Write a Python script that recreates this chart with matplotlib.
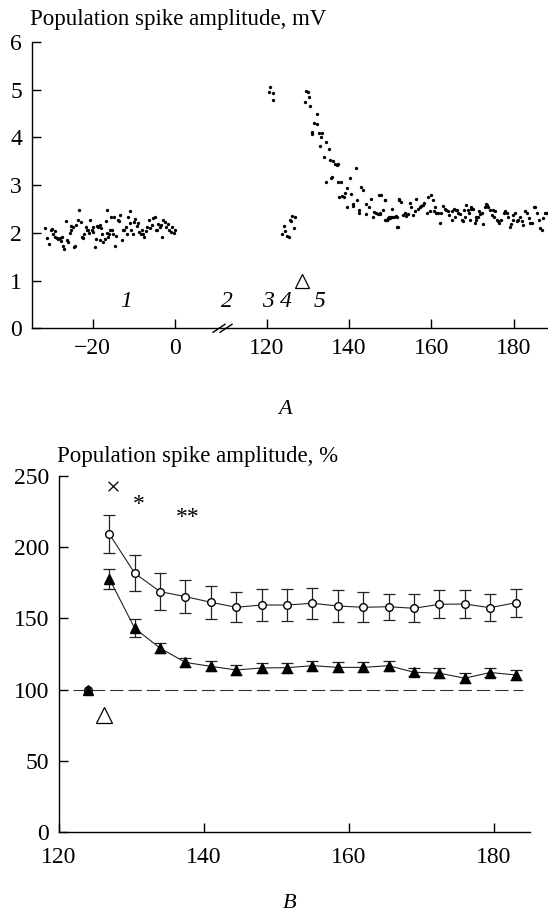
import numpy as np
import matplotlib
matplotlib.use('Agg')
import matplotlib.pyplot as plt
import matplotlib.transforms as mtransforms

plt.rcParams['font.family'] = ['Liberation Serif', 'DejaVu Serif']

# ---------------------------------------------------
# Panel A data - spike amplitude (mV) vs time (min)
# ---------------------------------------------------
# 1 - baseline before stimulation
base_t = [-31.5, -31.1, -30.6, -30.1, -29.8, -29.5, -29.1, -29.1, -28.7, -28.3,
          -27.9, -27.7, -27.5, -27.1, -26.9, -26.4, -26.1, -26.0, -25.6, -25.3,
          -25.2, -24.8, -24.5, -24.2, -24.0, -23.6, -23.2, -22.8, -22.5, -22.3,
          -22.0, -21.6, -21.4, -21.2, -20.8, -20.6, -20.2, -20.0, -19.8, -19.4,
          -19.2, -19.0, -18.7, -18.3, -18.2, -17.9, -17.6, -17.4, -17.1, -16.8,
          -16.6, -16.4, -16.3, -16.0, -15.8, -15.5, -15.2, -15.0, -14.8, -14.6,
          -14.2, -13.9, -13.7, -13.3, -12.9, -12.6, -12.3, -12.0, -11.7, -11.4,
          -11.0, -10.9, -10.6, -10.2, -9.9, -9.6, -9.3, -8.9, -8.7, -8.3,
          -8.0, -7.7, -7.4, -7.1, -6.7, -6.3, -6.0, -5.6, -5.3, -4.9,
          -4.7, -4.4, -4.1, -3.7, -3.4, -3.1, -2.8, -2.5, -2.2, -1.8,
          -1.4, -1.0, -0.6, -0.2, 0.2]
base_v = [2.10, 1.90, 1.77, 2.05, 2.08, 1.98, 2.03, 1.92, 1.90, 1.87,
          1.89, 1.84, 1.92, 1.73, 1.66, 2.24, 1.85, 1.80, 1.99, 2.05,
          2.15, 2.12, 1.70, 1.72, 2.17, 2.27, 2.47, 2.22, 1.91, 1.90,
          1.98, 2.12, 2.05, 2.06, 1.99, 2.27, 2.06, 2.12, 2.01, 1.71,
          1.87, 2.15, 2.12, 2.17, 1.85, 2.10, 1.98, 1.80, 1.87, 2.24,
          1.99, 2.47, 1.91, 1.98, 2.06, 2.33, 2.06, 1.98, 2.33, 1.73,
          1.94, 2.26, 2.24, 2.38, 1.85, 2.06, 2.06, 2.12, 1.98, 2.33,
          2.20, 2.45, 2.06, 1.97, 2.22, 2.29, 2.15, 2.20, 2.01, 1.98,
          2.05, 1.97, 1.92, 2.03, 2.13, 2.27, 2.10, 2.17, 2.31, 2.34,
          2.06, 2.05, 2.19, 2.12, 2.17, 1.92, 2.27, 2.22, 2.12, 2.19,
          2.06, 2.01, 2.12, 1.99, 2.05]

# 3 - first tetanus
tet_t = [120.5, 120.9, 121.4, 121.5]
tet_v = [4.95, 5.05, 4.94, 4.79]

# 4 - depression
dep_t = [123.8, 124.2, 124.4, 125.0, 125.3, 125.6, 125.8, 126.1, 126.6, 126.9]
dep_v = [1.98, 2.15, 2.03, 1.94, 1.91, 2.27, 2.24, 2.35, 2.10, 2.33]

# 5 - potentiation and decay
post_t = [129.3, 129.5, 130.1, 130.3, 130.5, 130.9, 131.1, 131.5, 132.1, 132.3,
          132.6, 132.9, 133.2, 133.5, 134.0, 134.4, 134.5, 135.0, 135.3, 135.6,
          135.8, 136.1, 136.6, 137.0, 137.2, 137.4, 137.6, 138.0, 138.3, 138.8,
          139.1, 139.4, 139.6, 140.2, 140.5, 140.9, 141.0, 141.7, 141.8, 142.5,
          142.5, 142.9, 143.3, 144.0, 144.0, 144.8, 145.2, 145.7, 146.1, 146.6,
          147.0, 147.2, 147.5, 148.3, 148.6, 148.8, 149.2, 149.4, 150.0, 150.5,
          151.3, 151.6, 151.7, 152.1,
          147.4, 147.8, 148.6, 149.0, 149.4, 149.8, 150.2, 151.0, 150.5, 151.8,
          152.2, 152.7, 153.1, 153.5, 153.9, 154.3, 154.7, 155.1, 155.5, 155.9,
          156.3, 156.7, 157.1, 157.5, 157.9, 158.3, 158.8, 159.2, 159.6, 160.0,
          160.4, 160.5, 160.8, 161.2, 161.6, 162.0, 162.4, 162.8, 163.2, 163.6,
          164.0, 164.3, 164.9, 165.1, 165.4, 165.7, 165.9, 166.2, 166.5, 166.9,
          167.3, 167.7, 167.9, 168.1, 168.5, 168.9, 169.2, 169.3, 169.5, 169.7,
          170.1, 170.5, 170.8, 170.9, 171.4, 171.6, 171.8, 172.2, 172.6, 173.0,
          173.2, 173.6, 173.8, 174.2, 174.6, 175.0, 175.2, 175.4, 175.8, 176.2,
          176.5, 177.0, 177.5, 177.9, 178.3, 178.7, 179.1, 179.3, 179.7, 179.9,
          180.3, 180.7, 181.1, 181.5, 181.9, 182.3, 182.7, 183.1, 183.6, 184.0,
          184.4, 184.8, 185.2, 185.6, 186.0, 186.4, 186.8, 187.2, 187.6, 188.0]
post_v = [4.75, 4.98, 4.96, 4.84, 4.66, 4.12, 4.07, 4.31, 4.28, 4.49,
          4.10, 3.83, 4.00, 4.10, 3.58, 3.91, 3.07, 3.75, 3.53, 3.14,
          3.18, 3.51, 3.44, 3.42, 3.44, 3.07, 2.75, 3.06, 2.77, 2.76,
          2.84, 2.55, 2.93, 3.14, 2.82, 2.56, 2.61, 3.35, 2.68, 2.47,
          2.41, 2.97, 2.89, 2.61, 2.40, 2.54, 2.70, 2.34, 2.44, 2.41,
          2.40, 2.79, 2.40, 2.47, 2.68, 2.27, 2.26, 2.29, 2.31, 2.34,
          2.36, 2.34, 2.13, 2.70,
          2.41, 2.79, 2.68, 2.27, 2.31, 2.33, 2.34, 2.33, 2.49, 2.13,
          2.68, 2.65, 2.38, 2.41, 2.35, 2.40, 2.63, 2.54, 2.38, 2.45,
          2.72, 2.51, 2.55, 2.56, 2.58, 2.62, 2.42, 2.76, 2.45, 2.79,
          2.68, 2.45, 2.55, 2.42, 2.42, 2.21, 2.42, 2.56, 2.51, 2.48,
          2.45, 2.38, 2.28, 2.45, 2.51, 2.34, 2.48, 2.48, 2.41, 2.40,
          2.28, 2.24, 2.47, 2.33, 2.58, 2.48, 2.41, 2.28, 2.51, 2.54,
          2.51, 2.20, 2.27, 2.33, 2.34, 2.45, 2.40, 2.41, 2.19, 2.55,
          2.61, 2.58, 2.55, 2.48, 2.38, 2.48, 2.33, 2.45, 2.28, 2.24,
          2.21, 2.28, 2.42, 2.45, 2.41, 2.33, 2.13, 2.19, 2.27, 2.38,
          2.42, 2.24, 2.27, 2.34, 2.24, 2.17, 2.45, 2.42, 2.31, 2.20,
          2.21, 2.55, 2.54, 2.41, 2.27, 2.10, 2.06, 2.31, 2.41, 2.42]

a_xticks = [-20, 0, 120, 140, 160, 180]
a_xlabels = ['\u221220', '0', '120', '140', '160', '180']

# ---------------------------------------------------
# Panel B data - spike amplitude (%) vs time (min)
# ---------------------------------------------------
b_t = [127, 130.5, 134, 137.5, 141, 144.5, 148, 151.5, 155,
       158.5, 162, 165.5, 169, 172.5, 176, 179.5, 183]
b_open = [209.3, 181.7, 168.8, 165.3, 161.3, 157.8, 159.4, 159.4, 160.6,
          158.7, 157.8, 158.2, 157.1, 159.9, 160.1, 157.5, 161.0]
b_open_err = [13.5, 12.5, 13.0, 11.5, 11.5, 10.5, 11.5, 11.0, 10.7,
              11.2, 10.5, 9.0, 9.7, 9.8, 9.5, 9.3, 9.7]
b_filled = [177.9, 143.1, 129.1, 119.1, 116.3, 113.8, 115.2, 115.4, 116.8,
            115.6, 115.6, 116.8, 112.2, 111.5, 108.0, 112.0, 110.3]
b_filled_err = [7.0, 6.3, 3.5, 3.0, 3.5, 3.5, 3.5, 3.5, 3.5,
                3.5, 3.5, 3.5, 3.0, 3.5, 3.5, 3.0, 3.5]
b_base_t = [124]
b_base_v = [99.5]
b_ref = 100
b_ref_t = [122, 184]

# ---------------------------------------------------
# Broken time axis for panel A
# ---------------------------------------------------
GAP = 22.3   # width of the 0..120 gap in axis units


def fwd(t):
    t = np.asarray(t, dtype=float)
    return np.where(t <= 0, t, np.where(t >= 120, t - 120 + GAP, t * GAP / 120))


def inv(d):
    d = np.asarray(d, dtype=float)
    return np.where(d <= 0, d, np.where(d >= GAP, d + 120 - GAP, d * 120 / GAP))


def style_axes(ax, xpad):
    ax.spines['top'].set_visible(False)
    ax.spines['right'].set_visible(False)
    ax.spines['left'].set_linewidth(1.0)
    ax.spines['bottom'].set_linewidth(1.0)
    ax.tick_params(direction='in', length=6.5, width=1.0, labelsize=17)
    ax.tick_params(axis='x', pad=xpad)
    ax.tick_params(axis='y', pad=7)


fig = plt.figure(figsize=(5.48, 9.15), dpi=100)

# ---------------------------------------------------
# Panel A
# ---------------------------------------------------
ax1 = fig.add_axes([0.0578, 0.6412, 0.9422, 0.3129])
ax1.set_xscale('function', functions=(fwd, inv))
ax1.plot(base_t, base_v, 'o', ms=2.4, mew=0, color='black')
ax1.plot(tet_t, tet_v, 'o', ms=2.4, mew=0, color='black')
ax1.plot(dep_t, dep_v, 'o', ms=2.4, mew=0, color='black')
ax1.plot(post_t, post_v, 'o', ms=2.4, mew=0, color='black')
ax1.plot([128.5], [1.0], '^', ms=10, mfc='white', mec='black', mew=0.9)

ax1.set_xlim(-34.8, 188.3)
ax1.set_ylim(0, 6)
ax1.set_xticks(a_xticks)
ax1.set_xticklabels(a_xlabels)
ax1.set_yticks(range(0, 7))
ax1.xaxis.set_minor_locator(plt.NullLocator())
style_axes(ax1, 7)

for lab, tx in [('1', -11.9), ('2', 67.7), ('3', 120.4), ('4', 124.7), ('5', 132.9)]:
    ax1.text(tx, 0.57, lab, fontsize=17, style='italic', ha='center', va='center')

# axis break marks
trans = mtransforms.blended_transform_factory(ax1.transData, ax1.transAxes)
for x0, x1 in [(49.8, 65.4), (58.9, 74.6)]:
    ax1.plot([x0, x1], [-0.014, 0.014], color='black', lw=1.0,
             transform=trans, clip_on=False)

fig.text(0.0547, 0.9727, 'Population spike amplitude, mV', fontsize=16.5,
         va='baseline', ha='left')
fig.text(0.52, 0.553, 'A', fontsize=16, style='italic', ha='center', va='center')

# ---------------------------------------------------
# Panel B
# ---------------------------------------------------
ax2 = fig.add_axes([0.1068, 0.0907, 0.8604, 0.3891])
ax2.plot(b_ref_t, [b_ref, b_ref], color='#333333', lw=0.8,
         linestyle=(0, (12, 4.5)))
ax2.errorbar(b_t, b_open, yerr=b_open_err, fmt='-o', color='#222222',
             mfc='white', mec='black', ms=5.5, lw=0.8, elinewidth=0.9,
             capsize=4, capthick=0.9, zorder=3)
ax2.errorbar(b_t, b_filled, yerr=b_filled_err, fmt='-^', color='#222222',
             mfc='black', mec='black', ms=6.5, lw=0.8, elinewidth=0.9,
             capsize=4, capthick=0.9, zorder=3)
ax2.plot(b_base_t, b_base_v, 'o', ms=5.5, mfc='white', mec='black', zorder=4)
ax2.plot(b_base_t, b_base_v, '^', ms=6.5, color='black', zorder=5)
ax2.plot([126.2], [82], '^', ms=11, mfc='white', mec='black', mew=0.9)

ax2.text(127.5, 240.7, '\u00d7', fontsize=19, ha='center', va='center')
ax2.text(131.0, 230, '*', fontsize=17, ha='center', va='center')
ax2.text(137.8, 220.5, '**', fontsize=17, ha='center', va='center')

ax2.set_xlim(120, 185)
ax2.set_ylim(0, 250)
ax2.set_xticks([120, 140, 160, 180])
ax2.set_yticks([0, 50, 100, 150, 200, 250])
style_axes(ax2, 11)

fig.text(0.104, 0.495, 'Population spike amplitude, %', fontsize=16.5,
         va='baseline', ha='left')
fig.text(0.529, 0.013, 'B', fontsize=16, style='italic', ha='center', va='center')

fig.savefig('out.png', dpi=100)
